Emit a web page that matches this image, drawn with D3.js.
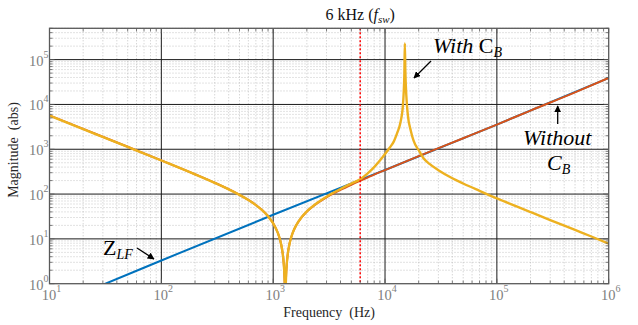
<!DOCTYPE html>
<html>
<head>
<meta charset="utf-8">
<script src="https://cdn.jsdelivr.net/npm/d3@7"></script>
<style>
  body { margin: 0; background: #fff; }
  svg { display: block; }
  text { font-family: 'Liberation Serif', 'Times New Roman', serif; white-space: pre; }
</style>
</head>
<body>
<div id="chart"></div>
<script>
// values (Hz, |Z|)
const freqZLF = [10, 31.6, 100, 1000, 6000, 10000, 100000, 1000000];
const magZLF  = [0.32, 1.0, 3.3, 34.5, 208, 345, 3550, 39000];

const freqWithout = [10, 20, 50, 100, 200, 300, 400, 500, 600, 700, 800, 900, 1000, 1100, 1150, 1200,
  1240, 1260, 1275, 1282, 1290, 1305, 1325, 1350, 1400, 1500, 1600, 1800, 2000, 2500, 3000, 4000,
  5000, 6000, 8000, 10000, 20000, 50000, 100000, 200000, 500000, 1000000];
const magWithout  = [5684, 2841, 1135, 565, 277.3, 179.1, 128.3, 96.4, 74.0, 57.0, 43.4, 32.1, 22.3, 13.7, 9.7, 5.9,
  3.0, 1.57, 0.52, 0.05, 0.52, 1.54, 2.89, 4.55, 7.78, 13.9, 19.8, 30.6, 40.7, 63.7, 84.7, 124,
  161.4, 198, 272, 343, 700, 1760, 3550, 7300, 18600, 39000];

const freqWith = [10, 20, 50, 100, 200, 300, 400, 500, 600, 700, 800, 900, 1000, 1100, 1150, 1200,
  1240, 1260, 1275, 1282, 1290, 1305, 1325, 1350, 1400, 1500, 1600, 1800, 2000, 2500, 3000, 4000,
  5000, 6000, 7000, 8000, 9000, 10000, 11000, 12000, 13000, 13500, 14000, 14400, 14700, 14900,
  15030, 15200, 15500, 16000, 17000, 18000, 20000, 22000, 25000, 30000, 40000, 50000, 70000,
  100000, 150000, 200000, 300000, 500000, 700000, 1000000];
const magWith  = [5643, 2821, 1127, 561, 275.3, 177.8, 127.5, 95.8, 73.6, 56.7, 43.2, 31.9, 22.2, 13.6, 9.7, 5.9,
  3.0, 1.57, 0.52, 0.05, 0.52, 1.54, 2.9, 4.55, 7.8, 14.0, 19.8, 30.8, 41.1, 65.0, 87.5, 130,
  172, 215, 290, 400, 560, 780, 1080, 1500, 2500, 3300, 5000, 8500, 19000, 50000,
  230000, 55000, 16000, 5800, 2600, 1550, 950, 640, 470, 340, 225, 172, 118,
  80, 53, 39.6, 26.3, 15.8, 11.3, 7.8];

const fsw = 6000;
const xTickExps = [1, 2, 3, 4, 5, 6];
const yTickExps = [0, 1, 2, 3, 4, 5];

const W = 638, H = 325;
const mLeft = 49.5, mRight = 608.7, mTop = 28.3, mBottom = 283.7;

const svg = d3.select('#chart').append('svg')
  .attr('width', W).attr('height', H);

const x = d3.scaleLog().domain([10, 1e6]).range([mLeft, mRight]);
const y = d3.scaleLog().domain([1, 5e5]).range([mBottom, mTop]);

const defs = svg.append('defs');
defs.append('clipPath').attr('id', 'plot-clip')
  .append('rect')
  .attr('x', mLeft).attr('y', mTop)
  .attr('width', mRight - mLeft).attr('height', mBottom - mTop);

// minor positions (2..9 within each decade)
const xMinor = [];
for (let e = 1; e < 6; e++) for (let k = 2; k <= 9; k++) xMinor.push(k * 10 ** e);
const yMinor = [];
for (let e = 0; e < 6; e++) for (let k = 2; k <= 9; k++) if (k * 10 ** e <= 5e5) yMinor.push(k * 10 ** e);

const grid = svg.append('g');
grid.selectAll('.xminor').data(xMinor).join('line')
  .attr('x1', d => x(d)).attr('x2', d => x(d))
  .attr('y1', mTop).attr('y2', mBottom)
  .attr('stroke', '#b8b8b8').attr('stroke-width', 0.8).attr('stroke-dasharray', '1,2');
grid.selectAll('.yminor').data(yMinor).join('line')
  .attr('y1', d => y(d)).attr('y2', d => y(d))
  .attr('x1', mLeft).attr('x2', mRight)
  .attr('stroke', '#b8b8b8').attr('stroke-width', 0.8).attr('stroke-dasharray', '1,2');

// major grid
grid.selectAll('.xmajor').data(xTickExps.slice(1, -1)).join('line')
  .attr('x1', d => x(10 ** d)).attr('x2', d => x(10 ** d))
  .attr('y1', mTop).attr('y2', mBottom)
  .attr('stroke', '#1a1a1a').attr('stroke-width', 1);
grid.selectAll('.ymajor').data(yTickExps.slice(1)).join('line')
  .attr('y1', d => y(10 ** d)).attr('y2', d => y(10 ** d))
  .attr('x1', mLeft).attr('x2', mRight)
  .attr('stroke', '#1a1a1a').attr('stroke-width', 1);

// curves
const line = d3.line()
  .x(d => x(d[0]))
  .y(d => y(d[1]))
  .curve(d3.curveMonotoneX);

const plot = svg.append('g').attr('clip-path', 'url(#plot-clip)');
plot.append('path')
  .attr('d', line(d3.zip(freqZLF, magZLF)))
  .attr('fill', 'none').attr('stroke', '#0072BD').attr('stroke-width', 2);
plot.append('path')
  .attr('d', line(d3.zip(freqWithout, magWithout)))
  .attr('fill', 'none').attr('stroke', '#D95319').attr('stroke-width', 2);
plot.append('path')
  .attr('d', line(d3.zip(freqWith, magWith)))
  .attr('fill', 'none').attr('stroke', '#EDB120').attr('stroke-width', 2.4);

// switching frequency marker
plot.append('line')
  .attr('x1', x(fsw)).attr('x2', x(fsw))
  .attr('y1', mTop).attr('y2', mBottom)
  .attr('stroke', '#ff0000').attr('stroke-width', 1.5).attr('stroke-dasharray', '2,2');

// box + ticks
const axisColor = '#5a5a5a';
svg.append('rect')
  .attr('x', mLeft).attr('y', mTop)
  .attr('width', mRight - mLeft).attr('height', mBottom - mTop)
  .attr('fill', 'none').attr('stroke', axisColor).attr('stroke-width', 1.3);

const ticks = svg.append('g').attr('stroke', axisColor).attr('stroke-width', 0.8);
const xAll = xMinor.map(v => [v, 3]).concat(xTickExps.map(e => [10 ** e, 5]));
const yAll = yMinor.map(v => [v, 3]).concat(yTickExps.map(e => [10 ** e, 5]));
xAll.forEach(([v, len]) => {
  ticks.append('line').attr('x1', x(v)).attr('x2', x(v)).attr('y1', mBottom).attr('y2', mBottom - len);
  ticks.append('line').attr('x1', x(v)).attr('x2', x(v)).attr('y1', mTop).attr('y2', mTop + len);
});
yAll.forEach(([v, len]) => {
  ticks.append('line').attr('y1', y(v)).attr('y2', y(v)).attr('x1', mLeft).attr('x2', mLeft + len);
  ticks.append('line').attr('y1', y(v)).attr('y2', y(v)).attr('x1', mRight).attr('x2', mRight - len);
});

// tick labels
const labelColor = '#808080';
svg.selectAll('.xlab').data(xTickExps).join('text')
  .attr('x', d => x(10 ** d) + 2).attr('y', 300)
  .attr('text-anchor', 'middle')
  .attr('fill', labelColor).style('font-size', '14.5px')
  .each(function (d) {
    const t = d3.select(this);
    t.append('tspan').text('10');
    t.append('tspan').attr('dy', -8).style('font-size', '10px').text(d);
  });
svg.selectAll('.ylab').data(yTickExps).join('text')
  .attr('x', mLeft - 1).attr('y', d => y(10 ** d) + 6)
  .attr('text-anchor', 'end')
  .attr('fill', labelColor).style('font-size', '14.5px')
  .each(function (d) {
    const t = d3.select(this);
    t.append('tspan').text('10');
    t.append('tspan').attr('dy', -8).style('font-size', '10px').text(d);
  });

// axis titles
svg.append('text')
  .attr('x', (mLeft + mRight) / 2).attr('y', 317)
  .attr('text-anchor', 'middle').attr('fill', '#262626')
  .style('font-size', '14px')
  .text('Frequency  (Hz)');
svg.append('text')
  .attr('transform', `translate(18,${(mTop + mBottom) / 2 - 6}) rotate(-90)`)
  .attr('text-anchor', 'middle').attr('fill', '#262626')
  .style('font-size', '14px')
  .text('Magnitude  (abs)');

// title
const title = svg.append('text')
  .attr('x', x(fsw)).attr('y', 20)
  .attr('text-anchor', 'middle').attr('fill', '#111')
  .style('font-size', '16px');
title.append('tspan').text('6 kHz (');
title.append('tspan').style('font-style', 'italic').text('f');
title.append('tspan').attr('dy', 3).style('font-size', '11px').style('font-style', 'italic').text('sw');
title.append('tspan').attr('dy', -3).text(')');

// annotations
defs.append('marker')
  .attr('id', 'arrow').attr('viewBox', '0 0 10 10')
  .attr('refX', 9).attr('refY', 5)
  .attr('markerWidth', 7).attr('markerHeight', 7)
  .attr('markerUnits', 'userSpaceOnUse')
  .attr('orient', 'auto')
  .append('path').attr('d', 'M0,0 L10,5 L0,10 z').attr('fill', '#000');

const arrow = (x1, y1, x2, y2) => svg.append('line')
  .attr('x1', x1).attr('y1', y1).attr('x2', x2).attr('y2', y2)
  .attr('stroke', '#000').attr('stroke-width', 1.3)
  .attr('marker-end', 'url(#arrow)');

const withLbl = svg.append('text').attr('x', 433).attr('y', 53).style('font-size', '22px').attr('fill', '#000');
withLbl.append('tspan').style('font-style', 'italic').text('With ');
withLbl.append('tspan').text('C');
withLbl.append('tspan').attr('dy', 4).style('font-size', '14px').style('font-style', 'italic').text('B');
arrow(431, 61, 414, 78);

svg.append('text').attr('x', 523).attr('y', 145).style('font-size', '22px')
  .style('font-style', 'italic').attr('fill', '#000').text('Without');
const cb = svg.append('text').attr('x', 547).attr('y', 170).style('font-size', '22px')
  .style('font-style', 'italic').attr('fill', '#000');
cb.append('tspan').text('C');
cb.append('tspan').attr('dy', 4).style('font-size', '14px').text('B');
arrow(557.7, 124, 557.7, 106);

const zlf = svg.append('text').attr('x', 103).attr('y', 255).style('font-size', '22px').attr('fill', '#000');
zlf.append('tspan').text('Z');
zlf.append('tspan').attr('dy', 4).style('font-size', '14px').style('font-style', 'italic').text('LF');
arrow(137, 248, 154, 259);
</script>
</body>
</html>
